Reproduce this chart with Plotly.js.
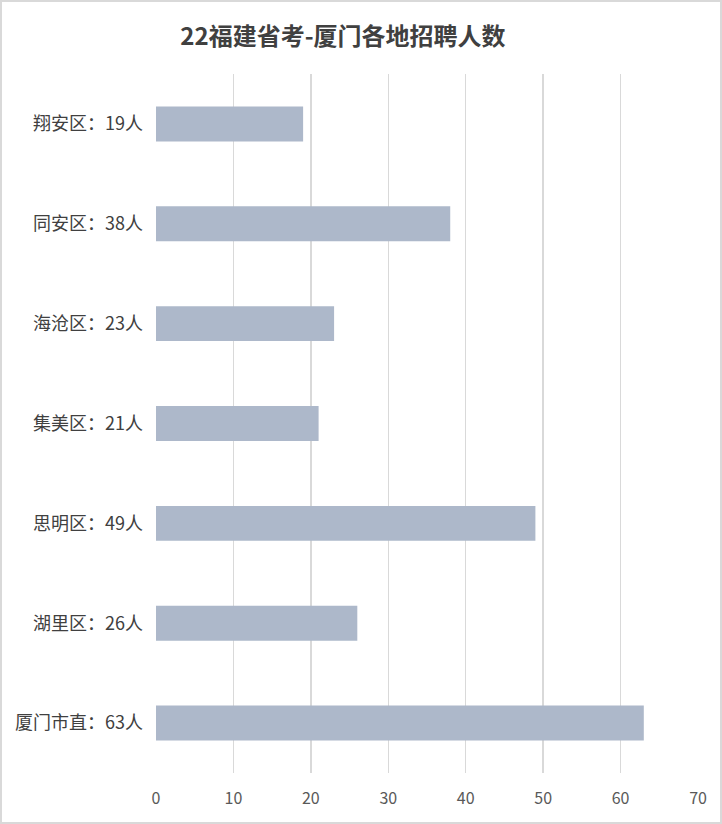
<!DOCTYPE html>
<html>
<head>
<meta charset="utf-8">
<script src="https://cdn.plot.ly/plotly-3.0.1.min.js"></script>
<style>
html,body{margin:0;padding:0;background:#fff;}
#wrap{position:relative;width:722px;height:824px;}
#chart{width:722px;height:824px;}
#frame{position:absolute;left:0;top:0;width:722px;height:824px;box-sizing:border-box;border:2px solid #d9d9d9;pointer-events:none;}
</style>
</head>
<body>
<div id="wrap"><div id="chart"></div><div id="frame"></div></div>
<script>
const categories = ["翔安区：19人","同安区：38人","海沧区：23人","集美区：21人","思明区：49人","湖里区：26人","厦门市直：63人"];
const values = [19, 38, 23, 21, 49, 26, 63];
const xTicks = [0, 10, 20, 30, 40, 50, 60, 70];

const font = "'Noto Sans CJK SC', 'Noto Sans', sans-serif";

Plotly.newPlot('chart', [{
  type: 'bar',
  orientation: 'h',
  x: values,
  y: categories,
  marker: {color: '#adb8ca'},
  hoverinfo: 'x+y'
}], {
  width: 722, height: 824,
  margin: {l: 156, r: 24, t: 74, b: 51, pad: 0},
  paper_bgcolor: '#ffffff',
  plot_bgcolor: '#ffffff',
  bargap: 0.65,
  showlegend: false,
  title: {
    text: '<b>22福建省考-厦门各地招聘人数</b>',
    font: {family: font, size: 24, color: '#404040'},
    xref: 'container', x: 0.475, xanchor: 'center',
    yref: 'container', y: 0.956, yanchor: 'middle'
  },
  xaxis: {
    range: [0, 70],
    tickvals: xTicks,
    ticktext: xTicks.map(String),
    showgrid: true,
    gridcolor: '#d9d9d9',
    gridwidth: 1.5,
    zeroline: false,
    showline: false,
    ticks: '',
    ticklabelstandoff: 14,
    tickfont: {family: font, size: 16, color: '#595959'},
    fixedrange: true
  },
  yaxis: {
    type: 'category',
    autorange: 'reversed',
    showgrid: false,
    zeroline: false,
    showline: false,
    ticks: '',
    ticklabelstandoff: 12,
    tickfont: {family: font, size: 18, color: '#404040'},
    fixedrange: true
  }
}, {displayModeBar: false, staticPlot: true});
</script>
</body>
</html>
